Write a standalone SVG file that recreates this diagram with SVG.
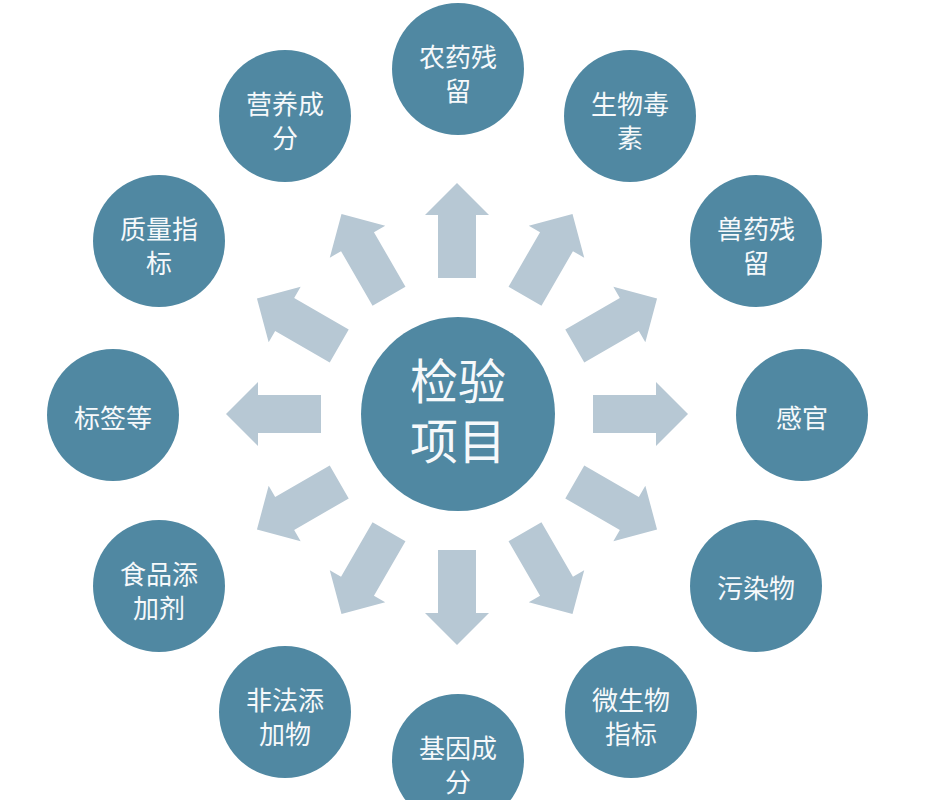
<svg xmlns="http://www.w3.org/2000/svg" xmlns:xlink="http://www.w3.org/1999/xlink" width="940" height="800" viewBox="0 0 940 800">
<style>
.n{fill:#5088a2}
.t{fill:#f6f9fb;font-family:"Noto Sans CJK SC","Noto Sans",sans-serif;font-size:26px;text-anchor:middle;dominant-baseline:central}
.c{font-size:48px}
.a{fill:#b7c8d4}
</style>
<defs>
<path id="arr" class="a" d="M136,-19 H199 V-32 L231,0 L199,32 V19 H136 Z"/>
</defs>
<rect width="940" height="800" fill="#ffffff"/>
<g id="connectors">
<use xlink:href="#arr" transform="translate(457,414) rotate(0)"/>
<use xlink:href="#arr" transform="translate(457,414) rotate(-30)"/>
<use xlink:href="#arr" transform="translate(457,414) rotate(-60)"/>
<use xlink:href="#arr" transform="translate(457,414) rotate(-90)"/>
<use xlink:href="#arr" transform="translate(457,414) rotate(-120)"/>
<use xlink:href="#arr" transform="translate(457,414) rotate(-150)"/>
<use xlink:href="#arr" transform="translate(457,414) rotate(180)"/>
<use xlink:href="#arr" transform="translate(457,414) rotate(150)"/>
<use xlink:href="#arr" transform="translate(457,414) rotate(120)"/>
<use xlink:href="#arr" transform="translate(457,414) rotate(90)"/>
<use xlink:href="#arr" transform="translate(457,414) rotate(60)"/>
<use xlink:href="#arr" transform="translate(457,414) rotate(30)"/>
</g>
<g id="center">
<circle class="n" cx="458" cy="414" r="97"/>
<text class="t c" x="458" y="378">检验</text>
<text class="t c" x="458" y="438">项目</text>
</g>
<g id="n-nongyao">
<circle class="n" cx="458" cy="69" r="66"/>
<text class="t" x="458" y="55">农药残</text>
<text class="t" x="458" y="89">留</text>
</g>
<g id="n-shengwu">
<circle class="n" cx="630" cy="116" r="66"/>
<text class="t" x="630" y="102">生物毒</text>
<text class="t" x="630" y="136">素</text>
</g>
<g id="n-shouyao">
<circle class="n" cx="756" cy="241" r="66"/>
<text class="t" x="756" y="227">兽药残</text>
<text class="t" x="756" y="261">留</text>
</g>
<g id="n-ganguan">
<circle class="n" cx="802" cy="415" r="66"/>
<text class="t" x="802" y="416">感官</text>
</g>
<g id="n-wuran">
<circle class="n" cx="756" cy="586" r="66"/>
<text class="t" x="756" y="586">污染物</text>
</g>
<g id="n-weishengwu">
<circle class="n" cx="631" cy="712" r="66"/>
<text class="t" x="631" y="698">微生物</text>
<text class="t" x="631" y="732">指标</text>
</g>
<g id="n-jiyin">
<circle class="n" cx="458" cy="760" r="66"/>
<text class="t" x="458" y="746">基因成</text>
<text class="t" x="458" y="780">分</text>
</g>
<g id="n-feifa">
<circle class="n" cx="285" cy="712" r="66"/>
<text class="t" x="285" y="698">非法添</text>
<text class="t" x="285" y="732">加物</text>
</g>
<g id="n-shipin">
<circle class="n" cx="159" cy="586" r="66"/>
<text class="t" x="159" y="572">食品添</text>
<text class="t" x="159" y="606">加剂</text>
</g>
<g id="n-biaoqian">
<circle class="n" cx="113" cy="415" r="66"/>
<text class="t" x="113" y="416">标签等</text>
</g>
<g id="n-zhiliang">
<circle class="n" cx="159" cy="241" r="66"/>
<text class="t" x="159" y="227">质量指</text>
<text class="t" x="159" y="261">标</text>
</g>
<g id="n-yingyang">
<circle class="n" cx="285" cy="116" r="66"/>
<text class="t" x="285" y="102">营养成</text>
<text class="t" x="285" y="136">分</text>
</g>
</svg>
